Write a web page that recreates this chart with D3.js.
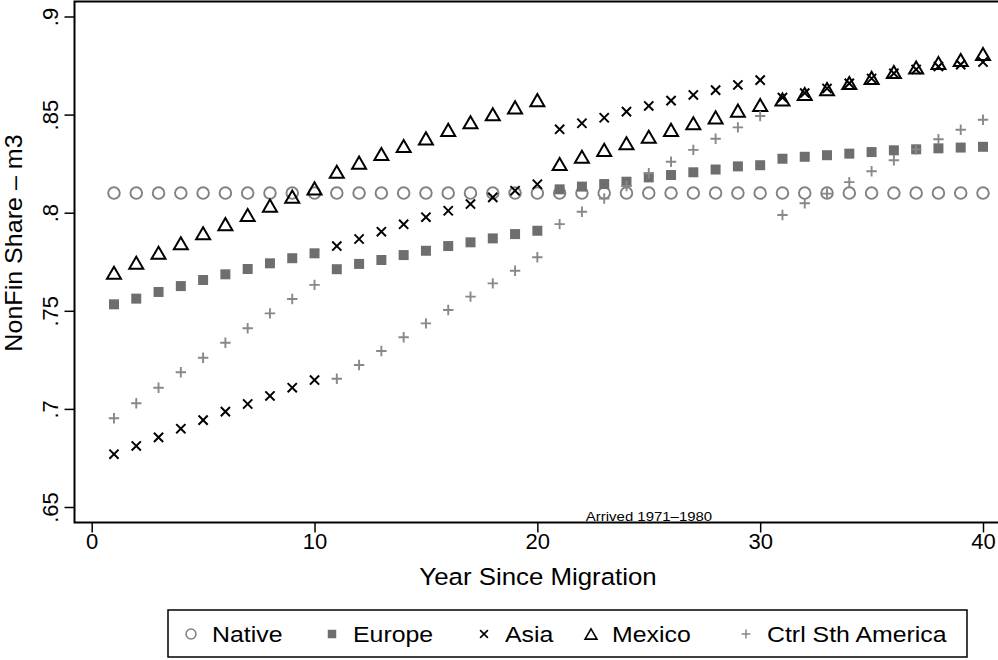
<!DOCTYPE html>
<meta charset="utf-8">
<head>
<style>
  body { margin: 0; background: #fff; }
  svg text { font-family: "Liberation Sans", Arial, sans-serif; fill: #000; }
</style>
</head>
<body>
<svg id="chart" width="998" height="660"></svg>
<script src="https://d3js.org/d3.v7.min.js"></script>
<script>

// data
var years = d3.range(1, 41);
var native = years.map(function() { return 0.81; });
var europe = [0.7533,0.7562,0.7596,0.7626,0.7657,0.7686,0.7713,0.7742,0.7768,0.7793,
              0.7712,0.7739,0.7759,0.7784,0.7806,0.7830,0.7849,0.7869,0.7891,0.7908,
              0.8119,0.8133,0.8146,0.8158,0.8180,0.8192,0.8206,0.8220,0.8236,0.8242,
              0.8275,0.8285,0.8293,0.8301,0.8309,0.8318,0.8323,0.8328,0.8332,0.8336];
var asia = [0.6769,0.6811,0.6855,0.6899,0.6943,0.6986,0.7025,0.7066,0.7108,0.7147,
            0.7830,0.7866,0.7903,0.7941,0.7977,0.8010,0.8044,0.8078,0.8112,0.8145,
            0.8425,0.8456,0.8484,0.8515,0.8544,0.8571,0.8600,0.8625,0.8651,0.8676,
            0.8587,0.8610,0.8633,0.8659,0.8684,0.8710,0.8730,0.8745,0.8755,0.8768];
var mexico = [0.7694,0.7745,0.7796,0.7844,0.7895,0.7942,0.7988,0.8036,0.8082,0.8124,
              0.8209,0.8255,0.8299,0.8340,0.8379,0.8422,0.8461,0.8502,0.8537,0.8574,
              0.8248,0.8285,0.8320,0.8354,0.8387,0.8422,0.8456,0.8486,0.8520,0.8549,
              0.8577,0.8605,0.8630,0.8661,0.8687,0.8717,0.8740,0.8763,0.8778,0.8809];
var ctrlSthAmerica = [0.6952,0.7029,0.7108,0.7187,0.7261,0.7337,0.7411,0.7487,0.7560,0.7632,
                      0.7154,0.7224,0.7295,0.7365,0.7436,0.7504,0.7572,0.7640,0.7704,0.7773,
                      0.7942,0.8005,0.8072,0.8136,0.8201,0.8260,0.8320,0.8377,0.8435,0.8493,
                      0.7988,0.8048,0.8097,0.8156,0.8211,0.8267,0.8323,0.8374,0.8423,0.8474];
var seriesNames = ["Native", "Europe", "Asia", "Mexico", "Ctrl Sth America"];
var xTicks = [0, 10, 20, 30, 40];
var yTicks = [0.65, 0.7, 0.75, 0.8, 0.85, 0.9];

var svg = d3.select("#chart");

// plot frame
var frameL = 74.5, frameR = 1000, frameT = 1.5, frameB = 522.5;

var x = d3.scaleLinear().domain([0, 40]).range([91.7, 983]);
var y = d3.scaleLinear().domain([0.65, 0.9]).range([507, 16.5]);

// marker shapes (size = half width)
var circleSym = { draw: function(c, r) { c.moveTo(r, 0); c.arc(0, 0, r, 0, 2 * Math.PI); } };
var squareSym = { draw: function(c, r) { c.rect(-r, -r, 2 * r, 2 * r); } };
var timesSym = { draw: function(c, r) { c.moveTo(-r, -r); c.lineTo(r, r); c.moveTo(-r, r); c.lineTo(r, -r); } };
var plusSym = { draw: function(c, r) { c.moveTo(-r, 0); c.lineTo(r, 0); c.moveTo(0, -r); c.lineTo(0, r); } };
var triSym = { draw: function(c, r) {
  var h = r * Math.sqrt(3);
  c.moveTo(0, -h / 2); c.lineTo(r, h / 2); c.lineTo(-r, h / 2); c.closePath();
} };

var styles = [
  { data: native, sym: circleSym, size: 5.8, fill: "none", stroke: "#808080", sw: 1.9 },
  { data: europe, sym: squareSym, size: 5, fill: "#6e6e6e", stroke: "none", sw: 0 },
  { data: asia, sym: timesSym, size: 4.6, fill: "none", stroke: "#000", sw: 2 },
  { data: mexico, sym: triSym, size: 7, fill: "none", stroke: "#000", sw: 2 },
  { data: ctrlSthAmerica, sym: plusSym, size: 5.2, fill: "none", stroke: "#888", sw: 1.9 }
];

svg.append("rect")
  .attr("x", frameL).attr("y", frameT)
  .attr("width", frameR - frameL).attr("height", frameB - frameT)
  .attr("fill", "none").attr("stroke", "#000").attr("stroke-width", 2);

// y axis
var yAxis = svg.append("g")
  .attr("transform", "translate(" + frameL + ",0)")
  .call(d3.axisLeft(y).tickValues(yTicks).tickSize(10)
    .tickFormat(function(d) { return d3.format(".2")(d).replace(/^0/, ""); }));
yAxis.select(".domain").remove();
yAxis.selectAll("line").attr("stroke", "#000").attr("stroke-width", 1.5);
yAxis.selectAll("text")
  .attr("transform", "rotate(-90)")
  .attr("x", 0).attr("y", -17).attr("dy", 0)
  .style("text-anchor", "middle")
  .style("font-size", "22px");

// x axis
var xAxis = svg.append("g")
  .attr("transform", "translate(0," + frameB + ")")
  .call(d3.axisBottom(x).tickValues(xTicks).tickSize(10));
xAxis.select(".domain").remove();
xAxis.selectAll("line").attr("stroke", "#000").attr("stroke-width", 1.5);
xAxis.selectAll("text").attr("y", 26).attr("dy", 0).style("font-size", "22px");

// axis titles (the reference font runs a little wide)
svg.append("text")
  .attr("transform", "translate(22,243) rotate(-90) scale(1.09,1)")
  .style("text-anchor", "middle").style("font-size", "23px")
  .text("NonFin Share \u2013 m3");
svg.append("text")
  .attr("transform", "translate(538,585) scale(1.1,1)")
  .style("text-anchor", "middle").style("font-size", "23.5px")
  .text("Year Since Migration");
svg.append("text")
  .attr("transform", "translate(649,521) scale(1.15,1)")
  .style("text-anchor", "middle").style("font-size", "13px")
  .text("Arrived 1971\u20131980");

// points
styles.forEach(function(s) {
  svg.append("g").selectAll("path")
    .data(s.data)
    .enter()
    .append("path")
      .attr("transform", function(d, i) { return "translate(" + x(years[i]) + "," + y(d) + ")"; })
      .attr("d", d3.symbol().type(s.sym).size(s.size))
      .attr("fill", s.fill)
      .attr("stroke", s.stroke)
      .attr("stroke-width", s.sw);
});

// legend
var legendX = [191, 332, 484, 591, 746];
svg.append("rect")
  .attr("x", 168).attr("y", 610).attr("width", 799).attr("height", 47)
  .attr("fill", "none").attr("stroke", "#000").attr("stroke-width", 1.5);
var leg = svg.append("g").selectAll("g")
  .data(seriesNames)
  .enter()
  .append("g")
    .attr("transform", function(d, i) { return "translate(" + legendX[i] + ",634)"; });
leg.append("path")
  .attr("d", function(d, i) { return d3.symbol().type(styles[i].sym).size(styles[i].size * 0.85)(); })
  .attr("fill", function(d, i) { return styles[i].fill; })
  .attr("stroke", function(d, i) { return styles[i].stroke; })
  .attr("stroke-width", function(d, i) { return styles[i].sw * 0.8; });
leg.append("text")
  .attr("transform", "translate(21,8) scale(1.13,1)")
  .style("font-size", "22px")
  .text(function(d) { return d; });

</script>
</body>
